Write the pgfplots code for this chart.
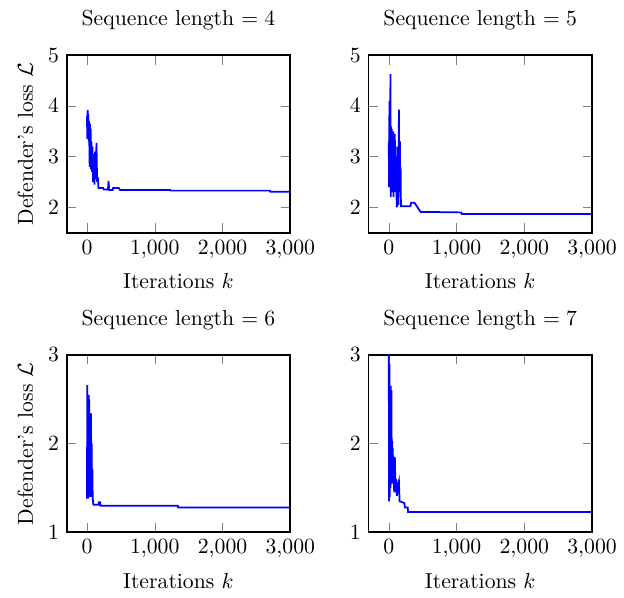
\documentclass[border=0pt]{standalone}
\usepackage{pgfplots}
\pgfplotsset{compat=1.18}
\usepgfplotslibrary{groupplots}
\begin{document}
\begin{tikzpicture}
\begin{groupplot}[
  group style={group size=2 by 2, horizontal sep=36pt, vertical sep=56.3pt},
  scale only axis, width=103pt, height=81.7pt,
  xmin=-300, xmax=3000, xtick={0,1000,2000,3000},
  xlabel={Iterations $k$},
  title style={yshift=2pt},
  axis line style={line width=0.8pt},
  every axis plot/.append style={blue, thick, no markers},
]
\nextgroupplot[title={Sequence length $=4$}, ymin=1.5, ymax=5, ytick={2,3,4,5}, ylabel={Defender's loss $\mathcal{L}$}]
\addplot coordinates {
(0,3.80) (5,3.35) (10,3.92) (15,3.45) (20,3.85) (25,3.30) (30,3.70) (40,2.80) (45,3.65) (50,2.95)
(55,3.55) (60,2.75) (65,3.30) (75,2.70) (80,3.20) (90,2.50) (95,3.05) (100,2.60) (105,2.85) (110,2.45)
(120,3.10) (130,2.55) (140,3.27) (150,2.50) (160,2.60) (170,2.38) (240,2.38) (250,2.35) (310,2.35)
(318,2.52) (328,2.34) (380,2.34) (385,2.38) (470,2.38) (490,2.34) (1230,2.34) (1235,2.33) (2700,2.33) (2705,2.31) (3000,2.31)
};
\nextgroupplot[title={Sequence length $=5$}, ymin=1.5, ymax=5, ytick={2,3,4,5}]
\addplot coordinates {
(0,3.30) (5,2.40) (10,4.10) (15,2.60) (20,3.40) (25,4.63) (30,2.20) (35,3.60) (40,2.50) (45,3.55)
(50,2.30) (55,3.40) (60,2.60) (65,3.50) (70,2.20) (75,3.20) (80,2.50) (90,3.45) (95,2.30) (100,3.00)
(110,2.40) (120,2.00) (125,3.20) (130,2.30) (140,2.80) (145,2.05) (150,3.93) (155,2.40) (165,3.30)
(170,2.30) (175,2.80) (180,2.02) (200,2.02) (320,2.02) (330,2.09) (380,2.09) (400,2.05) (450,1.95)
(470,1.91) (540,1.91) (1070,1.90) (1080,1.87) (3000,1.87)
};
\nextgroupplot[title={Sequence length $=6$}, ymin=1, ymax=3, ytick={1,2,3}, ylabel={Defender's loss $\mathcal{L}$}]
\addplot coordinates {
(0,1.38) (5,2.66) (10,1.40) (15,2.30) (20,1.38) (25,2.55) (30,1.45) (35,2.50) (40,1.40) (45,2.20)
(50,1.50) (60,2.34) (65,1.40) (70,2.00) (75,1.45) (80,1.70) (85,1.38) (95,1.31) (170,1.31) (175,1.34)
(195,1.34) (200,1.30) (1340,1.30) (1345,1.28) (3000,1.28)
};
\nextgroupplot[title={Sequence length $=7$}, ymin=1, ymax=3, ytick={1,2,3}]
\addplot coordinates {
(0,3.10) (5,1.35) (10,2.90) (15,1.40) (20,2.20) (25,1.50) (30,2.65) (35,1.60) (40,2.60) (45,1.55)
(50,2.03) (55,1.60) (60,1.95) (65,1.55) (70,1.85) (80,1.45) (90,1.85) (100,1.45) (110,1.60) (120,1.41)
(140,1.55) (150,1.58) (160,1.35) (230,1.33) (240,1.28) (280,1.28) (285,1.23) (3000,1.23)
};
\end{groupplot}
\path (current bounding box.south west) ++(-4.8pt,-1pt) (current bounding box.north east) ++(0pt,1.5pt);
\end{tikzpicture}
\end{document}
